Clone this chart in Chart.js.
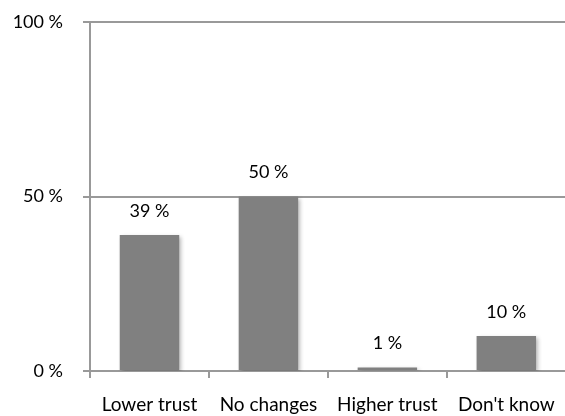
<!DOCTYPE html>
<html>
<head>
<meta charset="utf-8">
<script src="https://cdn.jsdelivr.net/npm/chart.js@4/dist/chart.umd.min.js"></script>
<style>
  html, body { margin: 0; padding: 0; background: #fff; overflow: hidden; }
  #wrap { width: 570px; height: 416px; }
</style>
</head>
<body>
<div id="wrap"><canvas id="trustChart"></canvas></div>
<script>
const categories = ['Lower trust', 'No changes', 'Higher trust', "Don't know"];
const shares = [39, 50, 1, 10];
const yTicks = [0, 50, 100];

const FONT = 'Lato, "Open Sans", sans-serif';
const LINE = '#999999';

// soft drop shadow under the bars
const barShadow = {
    id: 'barShadow',
    beforeDatasetDraw(chart) {
        const ctx = chart.ctx;
        ctx.save();
        ctx.shadowColor = 'rgba(0,0,0,0.28)';
        ctx.shadowBlur = 4;
        ctx.shadowOffsetX = 2;
        ctx.shadowOffsetY = 2;
    },
    afterDatasetDraw(chart) {
        chart.ctx.restore();
    }
};

// value labels above each bar
const valueLabels = {
    id: 'valueLabels',
    afterDatasetsDraw(chart) {
        const ctx = chart.ctx;
        const meta = chart.getDatasetMeta(0);
        ctx.save();
        ctx.font = '18px ' + FONT;
        ctx.fillStyle = '#000';
        ctx.textAlign = 'center';
        ctx.textBaseline = 'middle';
        meta.data.forEach((bar, i) => {
            ctx.fillText(shares[i] + ' %', bar.x, bar.y - 24);
        });
        ctx.restore();
    }
};

new Chart(document.getElementById('trustChart'), {
    type: 'bar',
    data: {
        labels: categories,
        datasets: [{
            data: shares,
            backgroundColor: '#808080',
            borderWidth: 0,
            barPercentage: 0.5,
            categoryPercentage: 1.0
        }]
    },
    options: {
        responsive: true,
        maintainAspectRatio: false,
        animation: false,
        layout: { padding: { top: 22, right: 2, left: 0, bottom: 0 } },
        plugins: {
            legend: { display: false },
            tooltip: { enabled: false }
        },
        scales: {
            x: {
                afterFit(scale) { scale.height = 45; },
                grid: {
                    offset: true,
                    drawOnChartArea: false,
                    drawTicks: true,
                    tickLength: 7,
                    color: LINE,
                    lineWidth: 2
                },
                border: { display: true, color: LINE, width: 2 },
                ticks: {
                    padding: 15,
                    color: '#000',
                    font: { family: FONT, size: 19 }
                }
            },
            y: {
                min: 0,
                max: 100,
                afterFit(scale) {
                    scale.width = 90;
                    scale.paddingTop = 0;
                    scale.paddingBottom = 0;
                },
                afterBuildTicks(scale) {
                    scale.ticks = yTicks.map(v => ({ value: v }));
                },
                grid: {
                    drawTicks: true,
                    tickLength: 7,
                    color: LINE,
                    lineWidth: 2
                },
                border: { display: true, color: LINE, width: 2 },
                ticks: {
                    padding: 20,
                    color: '#000',
                    font: { family: FONT, size: 18 },
                    callback: v => v + ' %'
                }
            }
        }
    },
    plugins: [barShadow, valueLabels]
});
</script>
</body>
</html>
